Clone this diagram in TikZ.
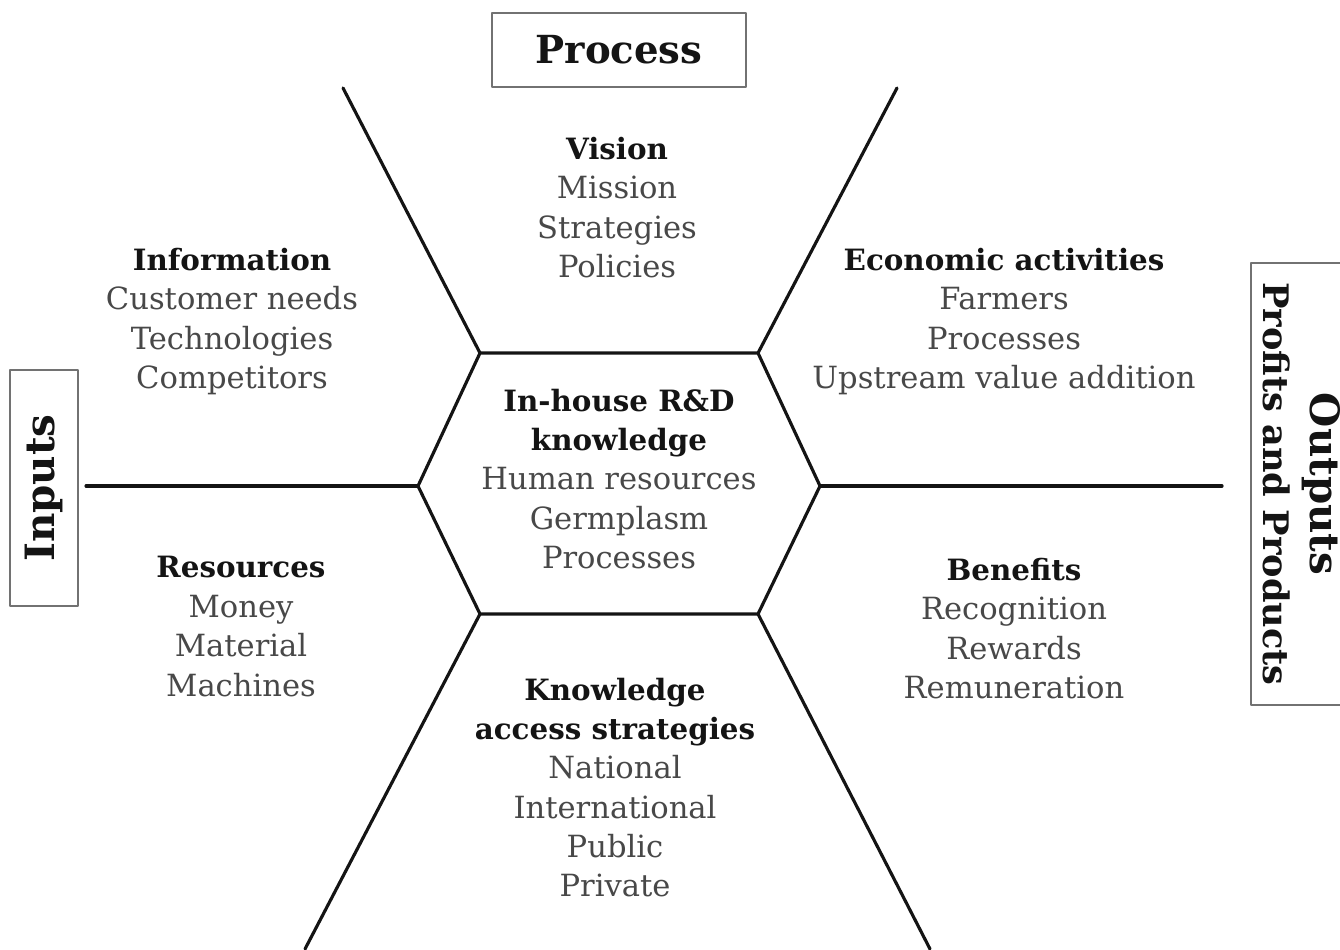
\documentclass[tikz,border=0pt]{standalone}
\usepackage{fontspec}
\setmainfont{DejaVu Serif}
\usetikzlibrary{positioning}
\definecolor{ink}{HTML}{141414}
\definecolor{body}{HTML}{484848}
\tikzset{
  every picture/.style={line cap=round, line join=round},
  spoke/.style={line width=0.9pt, draw=ink},
  group/.style={align=center, font=\fontsize{8.7}{11.2}\selectfont, text=body, inner sep=0pt},
  label box/.style={draw=ink!60, line width=0.6pt, align=center, text=ink, inner sep=0pt}
}
\newcommand{\hd}[1]{\textcolor{ink}{\fontsize{8.35}{11.2}\selectfont\bfseries #1}}

\begin{document}
\begin{tikzpicture}
  \useasboundingbox (0,0) rectangle (13.4,9.49);

  % Hexagon corners
  \coordinate (tl) at (4.80,5.96);
  \coordinate (tr) at (7.58,5.96);
  \coordinate (rt) at (8.20,4.63);
  \coordinate (br) at (7.58,3.35);
  \coordinate (bl) at (4.80,3.35);
  \coordinate (lt) at (4.18,4.63);

  % Outer ends of the spokes
  \coordinate (tl end) at (3.43,8.61);
  \coordinate (tr end) at (8.97,8.61);
  \coordinate (rt end) at (12.22,4.63);
  \coordinate (lt end) at (0.86,4.63);
  \coordinate (bl end) at (3.05,0);
  \coordinate (br end) at (9.30,0);

  \draw[spoke] (tl) -- (tr) -- (rt) -- (br) -- (bl) -- (lt) -- cycle;
  \foreach \c in {tl,tr,rt,lt,bl,br}
    \draw[spoke] (\c) -- (\c\space end);

  % Frame labels
  \node[label box, minimum width=2.54cm, minimum height=0.74cm,
        font=\fontsize{11}{13}\selectfont\bfseries] (process) at (6.19,8.99) {Process};
  \node[label box, rotate=90, minimum width=2.36cm, minimum height=0.68cm,
        font=\fontsize{11.5}{13}\selectfont\bfseries] (inputs) at (0.44,4.61) {Inputs};
  \node[label box, rotate=-90, minimum width=4.42cm, minimum height=1.02cm,
        font=\fontsize{10}{13.5}\selectfont\bfseries] (outputs) at (13.02,4.65)
        {{\fontsize{11.5}{13.5}\selectfont Outputs}\\Profits and Products};

  % Sector texts
  \node[group] (vision) at (6.17,7.415)
    {\hd{Vision}\\Mission\\Strategies\\Policies};
  \node[group] (info) at (2.32,6.275)
    {\hd{Information}\\Customer needs\\Technologies\\Competitors};
  \node[group] (econ) at (10.04,6.275)
    {\hd{Economic activities}\\Farmers\\Processes\\Upstream value addition};
  \node[group] (core) at (6.19,4.70)
    {\hd{In-house R\&D}\\\hd{knowledge}\\Human resources\\Germplasm\\Processes};
  \node[group] (res) at (2.41,3.225)
    {\hd{Resources}\\Money\\Material\\Machines};
  \node[group] (benefit) at (10.14,3.205)
    {\hd{Benefits}\\Recognition\\Rewards\\Remuneration};
  \node[group] (access) at (6.15,1.615)
    {\hd{Knowledge}\\\hd{access strategies}\\National\\International\\Public\\Private};
\end{tikzpicture}
\end{document}
